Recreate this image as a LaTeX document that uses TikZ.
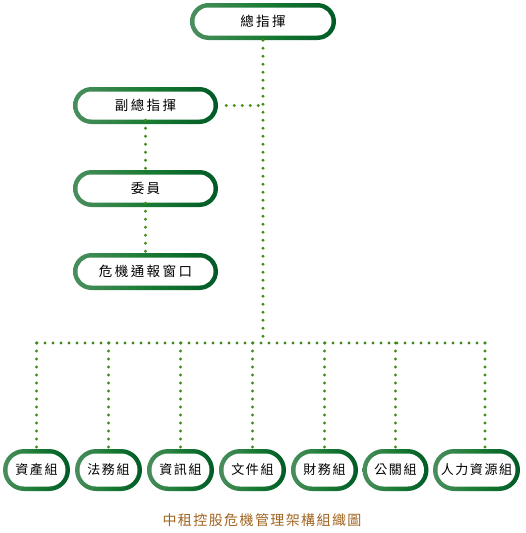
\documentclass[tikz,border=0pt]{standalone}
\usepackage{fontspec}
\newfontfamily\boxfont[LetterSpace=18]{Noto Sans CJK TC}
\newfontfamily\smallboxfont[LetterSpace=12]{Noto Sans CJK TC}
\newfontfamily\capfont[LetterSpace=10]{Noto Sans CJK TC}
\definecolor{gleft}{HTML}{4A8E5E}
\definecolor{gmid}{HTML}{1A7C33}
\definecolor{gright}{HTML}{005A26}
\definecolor{dotgreen}{HTML}{3F8A1A}
\definecolor{captioncol}{HTML}{A0631E}
\tikzset{
  pill/.style={rectangle, rounded corners=#1, inner sep=0pt, text=black,
    path picture={
      \shade[left color=gleft, right color=gright, middle color=gmid]
        (path picture bounding box.south west) rectangle (path picture bounding box.north east);
      \fill[white, rounded corners=#1-4.5pt]
        ([shift={(4.5pt,4.5pt)}]path picture bounding box.south west) rectangle
        ([shift={(-4.5pt,-4.5pt)}]path picture bounding box.north east);
    }},
  bigbox/.style={pill=18.5pt, minimum width=146pt, minimum height=37pt, font=\boxfont\fontsize{13.5pt}{15pt}\selectfont},
  smallbox/.style={pill=21pt, minimum height=42pt, font=\smallboxfont\fontsize{13pt}{15pt}\selectfont},
  dotline/.style={draw=dotgreen, line width=3.2pt, line cap=round, dash pattern=on 0pt off 8pt}
}
\begin{document}
\begin{tikzpicture}[x=1pt,y=-1pt]
\useasboundingbox (0,0) rectangle (525,533);
% top boxes
\node[bigbox] (top) at (263,21.5) {總指揮};
\node[bigbox, minimum width=145pt] (vice) at (145.5,105.5) {副總指揮};
\node[bigbox, minimum width=145pt] (comm) at (145.5,188.5) {委員};
\node[bigbox, minimum width=145pt] (win) at (145.5,271.5) {危機通報窗口};
% bottom boxes
\node[smallbox, minimum width=67pt] (b1) at (36.5,470) {資產組};
\node[smallbox, minimum width=67pt] (b2) at (108.5,470) {法務組};
\node[smallbox, minimum width=67pt] (b3) at (180.5,470) {資訊組};
\node[smallbox, minimum width=67pt] (b4) at (252.5,470) {文件組};
\node[smallbox, minimum width=67pt] (b5) at (324.5,470) {財務組};
\node[smallbox, minimum width=66pt] (b6) at (395.5,470) {公關組};
\node[smallbox, minimum width=87pt] (b7) at (476.5,470) {人力資源組};
% caption
\node[font=\capfont\fontsize{14pt}{16pt}\selectfont, text=captioncol] (cap) at (262,520) {中租控股危機管理架構組織圖};
% connector coordinates
\coordinate (busC) at (263,343);
\coordinate (viceJ) at (263,105.5);
\coordinate (busL) at (37,343);
\coordinate (busR) at (487,343);
\coordinate (d7) at (485,343);
% connectors
\path[dotline] (top.south) -- (busC);
\path[dotline] ([xshift=8pt]vice.east) -- (viceJ);
\path[dotline] ([yshift=4pt]vice.south) -- (comm.north);
\path[dotline] ([yshift=4pt]comm.south) -- (win.north);
\path[dotline] (busL) -- (busR);
\foreach \b in {b1,b2,b3,b4,b5,b6}{
  \path[dotline] (\b.center |- busC) -- ([yshift=-6pt]\b.north);
}
\path[dotline] (d7) -- ([yshift=-6pt]d7 |- b7.north);
\end{tikzpicture}
\end{document}
